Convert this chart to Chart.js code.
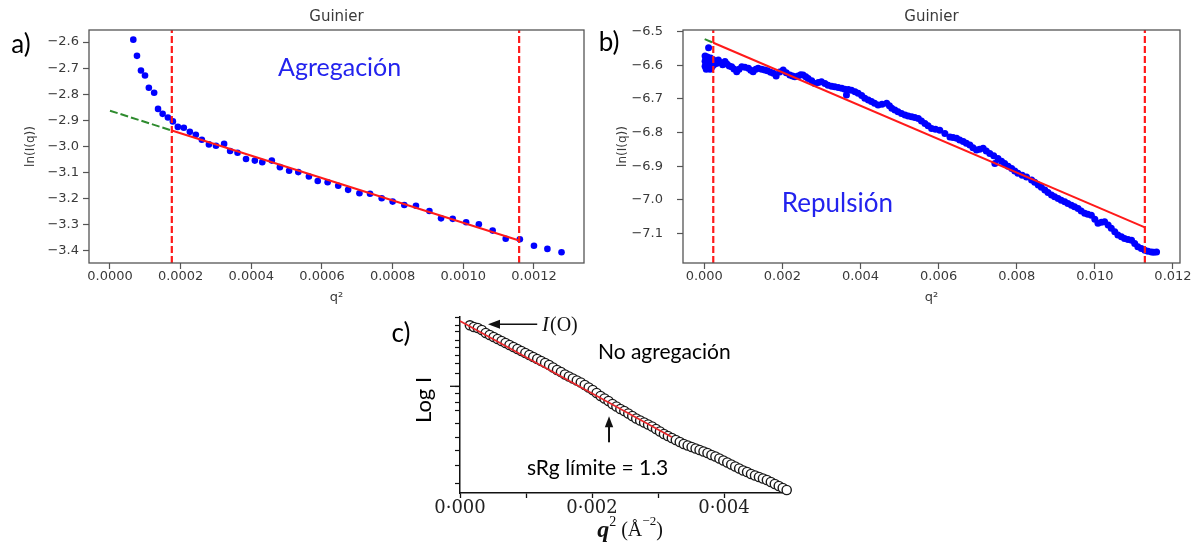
<!DOCTYPE html>
<html lang="es">
<head>
<meta charset="utf-8">
<title>Guinier</title>
<script src="https://cdn.jsdelivr.net/npm/chart.js@4.4.1/dist/chart.umd.min.js"></script>
<style>
  html, body { margin: 0; padding: 0; background: #fff; }
  body { width: 1198px; height: 544px; position: relative; overflow: hidden; }
  canvas { position: absolute; }
  #chartA { left: 0; top: 0; }
  #chartB { left: 590px; top: 0; }
  #chartC { left: 370px; top: 305px; }
</style>
</head>
<body>
<canvas id="chartA" width="590" height="310"></canvas>
<canvas id="chartB" width="608" height="310"></canvas>
<canvas id="chartC" width="440" height="239"></canvas>
<script>

// ================= DATA: a) agregación =================
const aQ = [
  0.0000660, 0.0000764, 0.0000877, 0.0000991, 0.000110, 0.000125, 0.000136, 0.000149, 0.000164, 0.000178,
  0.000192, 0.000209, 0.000226, 0.000243, 0.000260, 0.000280, 0.000300, 0.000323, 0.000340, 0.000361,
  0.000385, 0.000410, 0.000431, 0.000458, 0.000481, 0.000507, 0.000533, 0.000563, 0.000588, 0.000616,
  0.000646, 0.000674, 0.000706, 0.000736, 0.000769, 0.000800, 0.000833, 0.000866, 0.000904, 0.000937,
  0.000970, 0.001008, 0.001044, 0.001083, 0.001120, 0.001160, 0.001200, 0.001238, 0.001278
];
const aLnI = [
  -2.591, -2.653, -2.709, -2.728, -2.775, -2.794, -2.856, -2.875, -2.889, -2.904,
  -2.925, -2.928, -2.944, -2.955, -2.974, -2.992, -2.997, -2.990, -3.017, -3.024,
  -3.048, -3.054, -3.060, -3.054, -3.079, -3.093, -3.098, -3.115, -3.132, -3.137,
  -3.150, -3.166, -3.179, -3.181, -3.198, -3.211, -3.224, -3.227, -3.247, -3.275,
  -3.277, -3.290, -3.298, -3.322, -3.353, -3.355, -3.380, -3.392, -3.405
];
const aCuts = [0.000175, 0.001158];
const aFitQ = [0.000175, 0.001158];
const aFitLnI = [-2.939, -3.360];
const aExtrapQ = [0, 0.000175];
const aExtrapLnI = [-2.863, -2.939];
const aXTicks = [0, 0.0002, 0.0004, 0.0006, 0.0008, 0.0010, 0.0012];
const aYTicks = [-2.6, -2.7, -2.8, -2.9, -3.0, -3.1, -3.2, -3.3, -3.4];

// ================= DATA: b) repulsión =================
const bQ = [
  0.00002, 0.00002, 0.00002, 0.00004, 0.00005, 0.00006, 0.00008, 0.00009, 0.00011, 0.00012,
  0.00013, 0.00015, 0.00016, 0.00018, 0.00020, 0.00022, 0.00024, 0.00027, 0.00031, 0.00036,
  0.00041, 0.00047, 0.00053, 0.00058, 0.00064, 0.00070, 0.00076, 0.00083, 0.00089, 0.00096,
  0.00104, 0.00113, 0.00119, 0.00125, 0.00132, 0.00138, 0.00147, 0.00155, 0.00162, 0.00170,
  0.00177, 0.00184, 0.00193, 0.00202, 0.00210, 0.00219, 0.00226, 0.00232, 0.00240, 0.00247,
  0.00253, 0.00260, 0.00266, 0.00275, 0.00283, 0.00292, 0.00300, 0.00309, 0.00317, 0.00326,
  0.00334, 0.00343, 0.00352, 0.00360, 0.00364, 0.00369, 0.00377, 0.00386, 0.00394, 0.00403,
  0.00411, 0.00420, 0.00428, 0.00436, 0.00445, 0.00455, 0.00467, 0.00474, 0.00480, 0.00488,
  0.00496, 0.00505, 0.00514, 0.00522, 0.00531, 0.00539, 0.00548, 0.00556, 0.00565, 0.00573,
  0.00582, 0.00592, 0.00603, 0.00616, 0.00629, 0.00637, 0.00646, 0.00654, 0.00663, 0.00671,
  0.00680, 0.00688, 0.00697, 0.00705, 0.00714, 0.00722, 0.00731, 0.00741, 0.00744, 0.00752,
  0.00761, 0.00769, 0.00778, 0.00787, 0.00795, 0.00803, 0.00814, 0.00825, 0.00838, 0.00846,
  0.00855, 0.00863, 0.00872, 0.00880, 0.00889, 0.00897, 0.00906, 0.00914, 0.00923, 0.00931,
  0.00940, 0.00948, 0.00957, 0.00965, 0.00974, 0.00982, 0.00991, 0.01000, 0.01008, 0.01017,
  0.01025, 0.01034, 0.01042, 0.01051, 0.01059, 0.01068, 0.01076, 0.01085, 0.01094, 0.01102,
  0.01110, 0.01119, 0.01128, 0.01136, 0.01145, 0.01151, 0.01158
];
const bLnI = [
  -6.572, -6.588, -6.603, -6.580, -6.612, -6.594, -6.575, -6.606, -6.548, -6.585,
  -6.598, -6.612, -6.578, -6.592, -6.604, -6.583, -6.598, -6.588, -6.595, -6.584,
  -6.592, -6.598, -6.589, -6.596, -6.602, -6.604, -6.611, -6.619, -6.612, -6.604,
  -6.606, -6.609, -6.615, -6.619, -6.612, -6.609, -6.612, -6.614, -6.616, -6.621,
  -6.624, -6.632, -6.620, -6.614, -6.622, -6.629, -6.632, -6.634, -6.632, -6.628,
  -6.629, -6.634, -6.639, -6.646, -6.654, -6.651, -6.649, -6.654, -6.659, -6.662,
  -6.664, -6.666, -6.668, -6.671, -6.688, -6.672, -6.674, -6.679, -6.683, -6.690,
  -6.698, -6.703, -6.708, -6.713, -6.718, -6.716, -6.713, -6.720, -6.728, -6.733,
  -6.738, -6.743, -6.748, -6.751, -6.753, -6.755, -6.758, -6.766, -6.773, -6.780,
  -6.788, -6.790, -6.793, -6.803, -6.813, -6.815, -6.817, -6.822, -6.827, -6.832,
  -6.837, -6.845, -6.852, -6.850, -6.847, -6.855, -6.862, -6.869, -6.892, -6.877,
  -6.885, -6.892, -6.900, -6.907, -6.914, -6.921, -6.927, -6.932, -6.941, -6.948,
  -6.956, -6.963, -6.971, -6.978, -6.986, -6.991, -6.996, -7.001, -7.006, -7.011,
  -7.016, -7.021, -7.026, -7.033, -7.040, -7.043, -7.046, -7.058, -7.070, -7.067,
  -7.065, -7.075, -7.085, -7.095, -7.105, -7.110, -7.115, -7.118, -7.120, -7.130,
  -7.140, -7.145, -7.150, -7.153, -7.155, -7.156, -7.155
];
const bCuts = [0.00023, 0.01128];
const bFitQ = [0.00023, 0.01128];
const bFitLnI = [-6.533, -7.082];
const bExtrapQ = [0.00001, 0.00023];
const bExtrapLnI = [-6.522, -6.533];
const bXTicks = [0, 0.002, 0.004, 0.006, 0.008, 0.010, 0.012];
const bYTicks = [-6.5, -6.6, -6.7, -6.8, -6.9, -7.0, -7.1];

// ================= DATA: c) no agregación =================
const cQ = [
  0.00015, 0.00021, 0.00027, 0.00033, 0.00039, 0.00045, 0.00051, 0.00057, 0.00063, 0.00069,
  0.00075, 0.00081, 0.00087, 0.00093, 0.00099, 0.00105, 0.00111, 0.00117, 0.00123, 0.00129,
  0.00135, 0.00141, 0.00147, 0.00153, 0.00159, 0.00165, 0.00171, 0.00177, 0.00183, 0.00189,
  0.00195, 0.00201, 0.00207, 0.00213, 0.00219, 0.00225, 0.00231, 0.00237, 0.00243, 0.00249,
  0.00255, 0.00261, 0.00267, 0.00273, 0.00279, 0.00285, 0.00291, 0.00297, 0.00303, 0.00309,
  0.00315, 0.00321, 0.00327, 0.00333, 0.00339, 0.00345, 0.00351, 0.00357, 0.00363, 0.00369,
  0.00375, 0.00381, 0.00387, 0.00393, 0.00399, 0.00405, 0.00411, 0.00417, 0.00423, 0.00429,
  0.00435, 0.00441, 0.00447, 0.00453, 0.00459, 0.00465, 0.00471, 0.00477, 0.00483, 0.00489,
  0.00495
];
const cLogI = [
  16.77, 16.60, 16.50, 16.30, 16.00, 15.80, 15.60, 15.40, 15.20, 15.00,
  14.80, 14.60, 14.40, 14.20, 14.00, 13.80, 13.60, 13.40, 13.20, 13.00,
  12.80, 12.55, 12.30, 12.10, 11.85, 11.65, 11.45, 11.25, 11.05, 10.80,
  10.55, 10.30, 10.00, 9.70, 9.45, 9.20, 8.90, 8.65, 8.40, 8.20,
  7.95, 7.70, 7.45, 7.25, 7.05, 6.85, 6.65, 6.40, 6.15, 5.90,
  5.70, 5.50, 5.30, 5.10, 4.90, 4.75, 4.60, 4.45, 4.30, 4.15,
  4.00, 3.80, 3.65, 3.45, 3.25, 3.05, 2.85, 2.65, 2.45, 2.25,
  2.10, 1.90, 1.75, 1.60, 1.45, 1.30, 1.10, 0.90, 0.70, 0.50,
  0.30
];
const cFitQ = [0, 0.003207];
const cFitLogI = [17.2, 5.6];
const cXTicks = [0, 0.001, 0.002, 0.003, 0.004];
const cYTicks = [17.6, 16.77, 16.1, 15.27, 14.6, 13.77, 12.97, 11.94, 10.67, 9.94, 9.1, 8.27, 6.94, 5.6, 4.27, 2.77, 0.94];
const cYMajor = 10.67;


// ================= STYLE =================
const RED = "#ff1a1a";
const GREEN = "#2e8b2e";
const BLUE = "#0000ff";
const NOTE_BLUE = "#2323ee";
const INK = "#3a3a3a";
const SPINE = "#555555";
const TICK_FONT = { family: "DejaVu Sans", size: 13 };
const CALIBRI_LIKE = "Lato";

Chart.defaults.font.family = "DejaVu Sans";


// ================= HELPERS =================
function pts(xs, ys) {
  return xs.map((x, i) => ({ x, y: ys[i] }));
}

function minusFmt(v, digits) {
  return (v < 0 ? "\u2212" : "") + Math.abs(v).toFixed(digits);
}

function lineSet(data, color, width, dash) {
  return {
    data,
    showLine: true,
    borderColor: color,
    borderWidth: width,
    borderDash: dash || [],
    pointRadius: 0,
    fill: false
  };
}

function arrow(ctx, x1, y1, x2, y2, head, width) {
  const ang = Math.atan2(y2 - y1, x2 - x1);
  const c = Math.cos(ang), s = Math.sin(ang);
  ctx.lineWidth = width;
  ctx.beginPath();
  ctx.moveTo(x1, y1);
  ctx.lineTo(x2 - c * head * 0.7, y2 - s * head * 0.7);
  ctx.stroke();
  ctx.beginPath();
  ctx.moveTo(x2, y2);
  ctx.lineTo(x2 - head * c + head * 0.38 * s, y2 - head * s - head * 0.38 * c);
  ctx.lineTo(x2 - head * c - head * 0.38 * s, y2 - head * s + head * 0.38 * c);
  ctx.closePath();
  ctx.fill();
}


// ================= GUINIER FRAME + TEXTS =================
const guinierDecor = {
  id: "guinierDecor",
  afterDraw(chart, args, opts) {
    const { ctx, chartArea: a, scales } = chart;
    ctx.save();

    // full box like matplotlib spines
    ctx.strokeStyle = SPINE;
    ctx.lineWidth = 1.3;
    ctx.strokeRect(a.left, a.top, a.right - a.left, a.bottom - a.top);

    ctx.fillStyle = INK;
    ctx.font = '15px "DejaVu Sans"';
    ctx.textAlign = "center";
    ctx.textBaseline = "middle";
    ctx.fillText(opts.title, (a.left + a.right) / 2, 17);

    // panel tag
    ctx.fillStyle = "#000";
    ctx.font = `26px ${CALIBRI_LIKE}`;
    ctx.fillText(opts.tag.text, opts.tag.x, opts.tag.y);

    // regime note in data coordinates
    ctx.fillStyle = NOTE_BLUE;
    ctx.font = `${opts.note.size}px ${CALIBRI_LIKE}`;
    ctx.fillText(
      opts.note.text,
      scales.x.getPixelForValue(opts.note.q),
      scales.y.getPixelForValue(opts.note.v)
    );
    ctx.restore();
  }
};

function guinierChart(id, cfg) {
  return new Chart(document.getElementById(id), {
    type: "scatter",
    data: {
      datasets: [
        lineSet(pts(cfg.fitQ, cfg.fitLnI), RED, 2),
        lineSet(pts(cfg.extrapQ, cfg.extrapLnI), GREEN, 2, [8, 3]),
        lineSet(pts([cfg.cuts[0], cfg.cuts[0]], [cfg.yMin, cfg.yMax]), RED, 2.2, [7, 3]),
        lineSet(pts([cfg.cuts[1], cfg.cuts[1]], [cfg.yMin, cfg.yMax]), RED, 2.2, [7, 3]),
        {
          data: pts(cfg.q, cfg.lnI),
          pointRadius: cfg.dot,
          pointBackgroundColor: BLUE,
          pointBorderWidth: 0
        }
      ]
    },
    options: {
      responsive: false,
      animation: false,
      events: [],
      layout: { padding: cfg.padding },
      plugins: {
        legend: { display: false },
        tooltip: { enabled: false },
        guinierDecor: cfg.decor
      },
      scales: {
        x: {
          type: "linear",
          min: cfg.xMin,
          max: cfg.xMax,
          afterBuildTicks: s => { s.ticks = cfg.xTicks.map(value => ({ value })); },
          afterFit: s => { s.height = 42; },
          ticks: {
            callback: v => v.toFixed(cfg.xDigits),
            font: TICK_FONT, color: INK, padding: 0,
            maxRotation: 0, autoSkip: false
          },
          grid: { drawOnChartArea: false, tickLength: 6, tickColor: SPINE, tickWidth: 1.2 },
          border: { display: false },
          title: {
            display: true, text: "q\u00b2", color: INK,
            font: { family: "DejaVu Sans", size: 13 }, padding: 0
          }
        },
        y: {
          type: "linear",
          min: cfg.yMin,
          max: cfg.yMax,
          afterBuildTicks: s => { s.ticks = cfg.yTicks.map(value => ({ value })); },
          afterFit: s => { s.width = cfg.yWidth; },
          ticks: {
            callback: v => minusFmt(v, 1),
            font: TICK_FONT, color: INK, padding: cfg.yPad, autoSkip: false
          },
          grid: { drawOnChartArea: false, tickLength: 6, tickColor: SPINE, tickWidth: 1.2 },
          border: { display: false },
          title: {
            display: true, text: "ln(I(q))", color: INK,
            font: { family: "DejaVu Sans", size: 12 }, padding: { top: cfg.yTitlePad }
          }
        }
      }
    },
    plugins: [guinierDecor]
  });
}


// ================= PANEL a =================
guinierChart("chartA", {
  q: aQ, lnI: aLnI,
  fitQ: aFitQ, fitLnI: aFitLnI,
  extrapQ: aExtrapQ, extrapLnI: aExtrapLnI,
  cuts: aCuts,
  xTicks: aXTicks, yTicks: aYTicks, xDigits: 4,
  xMin: -0.0000594, xMax: 0.0013416,
  yMin: -3.446, yMax: -2.554,
  yWidth: 89, yPad: 4, yTitlePad: 24, dot: 3.3,
  padding: { top: 30, right: 6, bottom: 5, left: 0 },
  decor: {
    title: "Guinier",
    tag: { text: "a)", x: 21, y: 45 },
    note: { text: "Agregación", q: 0.00065, v: -2.70, size: 25 }
  }
});


// ================= PANEL b =================
guinierChart("chartB", {
  q: bQ, lnI: bLnI,
  fitQ: bFitQ, fitLnI: bFitLnI,
  extrapQ: bExtrapQ, extrapLnI: bExtrapLnI,
  cuts: bCuts,
  xTicks: bXTicks, yTicks: bYTicks, xDigits: 3,
  xMin: -0.000545, xMax: 0.01218,
  yMin: -7.188, yMax: -6.495,
  yWidth: 93, yPad: 14, yTitlePad: 26, dot: 3.5,
  padding: { top: 30, right: 18, bottom: 5, left: 0 },
  decor: {
    title: "Guinier",
    tag: { text: "b)", x: 19, y: 43 },
    note: { text: "Repulsión", q: 0.003408, v: -7.01, size: 26 }
  }
});


// ================= PANEL c =================
const cDecor = {
  id: "cDecor",
  afterDraw(chart) {
    const { ctx, chartArea: a, scales: { x, y } } = chart;
    ctx.save();
    ctx.strokeStyle = "#111";
    ctx.fillStyle = "#111";

    // longer decade tick on the log axis
    ctx.lineWidth = 1.3;
    ctx.beginPath();
    const ym = y.getPixelForValue(cYMajor);
    ctx.moveTo(a.left - 10, ym);
    ctx.lineTo(a.left, ym);
    ctx.stroke();

    ctx.textBaseline = "middle";

    // panel tag and y title
    ctx.fillStyle = "#000";
    ctx.textAlign = "center";
    ctx.font = `26px ${CALIBRI_LIKE}`;
    ctx.fillText("c)", 31, 29);

    ctx.save();
    ctx.translate(54, 95);
    ctx.rotate(-Math.PI / 2);
    ctx.font = `22px ${CALIBRI_LIKE}`;
    ctx.fillText("Log I", 0, 0);
    ctx.restore();

    // I(0) pointer
    const yi = y.getPixelForValue(16.87);
    ctx.fillStyle = "#111";
    arrow(ctx, x.getPixelForValue(0.00117), yi, x.getPixelForValue(0.000424), yi, 12, 1.4);
    ctx.textAlign = "left";
    let tx = x.getPixelForValue(0.001242);
    ctx.font = 'italic 21px "Liberation Serif"';
    ctx.fillText("I", tx, yi + 1);
    tx += ctx.measureText("I").width + 1;
    ctx.font = '20px "Liberation Serif"';
    ctx.fillText("(O)", tx, yi + 1);

    // sRg limit marker
    const xa = x.getPixelForValue(0.002258);
    arrow(ctx, xa, y.getPixelForValue(5.07), xa, y.getPixelForValue(7.67), 11, 2);

    ctx.fillStyle = "#000";
    ctx.font = `21px ${CALIBRI_LIKE}`;
    ctx.fillText("No agregación", x.getPixelForValue(0.00209), y.getPixelForValue(14.07));
    ctx.fillText("sRg límite = 1.3", x.getPixelForValue(0.001015), y.getPixelForValue(2.47));

    // x title: q^2 (Å^-2)
    const parts = [
      { t: "q", f: 'italic bold 24px "Liberation Serif"', dy: 0 },
      { t: "2", f: '14px "Liberation Serif"', dy: -9 },
      { t: " (Å", f: '20px "Liberation Serif"', dy: 0 },
      { t: "\u22122", f: '13px "Liberation Serif"', dy: -9 },
      { t: ")", f: '20px "Liberation Serif"', dy: 0 }
    ];
    let total = 0;
    parts.forEach(p => { ctx.font = p.f; p.w = ctx.measureText(p.t).width; total += p.w; });
    let px = (a.left + a.right) / 2 + 5 - total / 2;
    const py = 226;
    ctx.fillStyle = "#111";
    parts.forEach(p => {
      ctx.font = p.f;
      ctx.fillText(p.t, px, py + p.dy);
      px += p.w;
    });
    ctx.restore();
  }
};

new Chart(document.getElementById("chartC"), {
  type: "scatter",
  data: {
    datasets: [
      lineSet(pts(cFitQ, cFitLogI), "#e8262a", 1.6),
      {
        data: pts(cQ, cLogI),
        pointRadius: 4.6,
        pointBackgroundColor: "#ffffff",
        pointBorderColor: "#1a1a1a",
        pointBorderWidth: 1.4,
        clip: false
      }
    ]
  },
  options: {
    responsive: false,
    animation: false,
    events: [],
    layout: { padding: { top: 12, right: 20, bottom: 0, left: 0 } },
    plugins: { legend: { display: false }, tooltip: { enabled: false } },
    scales: {
      x: {
        type: "linear",
        min: 0,
        max: 0.005,
        afterBuildTicks: s => { s.ticks = cXTicks.map(value => ({ value })); },
        afterFit: s => { s.height = 51; },
        ticks: {
          callback: (v, i) => (i % 2 === 0 ? v.toFixed(3).replace(".", "\u00b7") : ""),
          font: { family: "DejaVu Serif", size: 18 }, color: "#222",
          padding: 0, maxRotation: 0, autoSkip: false
        },
        grid: { drawOnChartArea: false, tickLength: 5, tickColor: "#111", tickWidth: 1.3 },
        border: { color: "#111", width: 1.5 }
      },
      y: {
        type: "linear",
        min: 0,
        max: 17.6,
        afterBuildTicks: s => { s.ticks = cYTicks.map(value => ({ value })); },
        afterFit: s => { s.width = 90; },
        ticks: { callback: () => "", autoSkip: false },
        grid: { drawOnChartArea: false, tickLength: 5, tickColor: "#111", tickWidth: 1.2 },
        border: { color: "#111", width: 1.5 }
      }
    }
  },
  plugins: [cDecor]
});
</script>
</body>
</html>
